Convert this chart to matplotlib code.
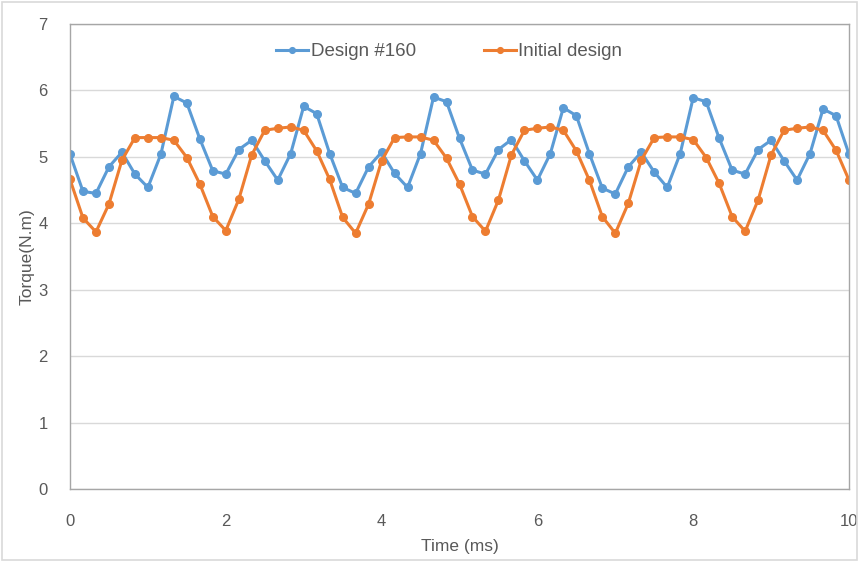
import numpy as np
import matplotlib
matplotlib.use("Agg")
import matplotlib.pyplot as plt
from matplotlib.patches import Rectangle

time_ms = [i / 6 for i in range(61)]

design160 = [5.04, 4.48, 4.45, 4.85, 5.07, 4.74, 4.54, 5.04, 5.91, 5.81,
             5.27, 4.79, 4.74, 5.11, 5.25, 4.94, 4.65, 5.05, 5.76, 5.65,
             5.05, 4.54, 4.45, 4.85, 5.07, 4.75, 4.54, 5.05, 5.90, 5.83,
             5.28, 4.80, 4.74, 5.11, 5.26, 4.94, 4.65, 5.05, 5.74, 5.62,
             5.05, 4.53, 4.44, 4.85, 5.07, 4.77, 4.54, 5.05, 5.89, 5.83,
             5.28, 4.80, 4.74, 5.11, 5.25, 4.94, 4.65, 5.05, 5.72, 5.62,
             5.04]

initial = [4.66, 4.08, 3.87, 4.29, 4.95, 5.29, 5.29, 5.29, 5.25, 4.99,
           4.59, 4.10, 3.89, 4.36, 5.03, 5.40, 5.43, 5.45, 5.40, 5.09,
           4.66, 4.09, 3.85, 4.29, 4.94, 5.29, 5.30, 5.30, 5.25, 4.98,
           4.59, 4.10, 3.88, 4.35, 5.03, 5.40, 5.43, 5.45, 5.40, 5.09,
           4.65, 4.10, 3.85, 4.30, 4.95, 5.29, 5.30, 5.30, 5.26, 4.99,
           4.60, 4.10, 3.88, 4.35, 5.03, 5.40, 5.43, 5.45, 5.40, 5.10,
           4.65]

labels = ["Design #160", "Initial design"]
xticks = [0, 2, 4, 6, 8, 10]
yticks = [0, 1, 2, 3, 4, 5, 6, 7]

plt.rcParams['font.family'] = ['Liberation Sans', 'DejaVu Sans']

fig = plt.figure(figsize=(8.59, 5.61), dpi=100)
fig.patches.append(Rectangle((0.002, 0.002), 0.996, 0.994, transform=fig.transFigure,
                             fill=False, edgecolor='#d9d9d9', linewidth=1.2))
W, H = 859, 561
ax = fig.add_axes([70 / W, 1 - 489 / H, (849 - 70) / W, (489 - 24) / H])

blue = '#5B9BD5'
orange = '#ED7D31'
ax.plot(time_ms, design160, color=blue, marker='o', markersize=5.5, linewidth=2.2, label=labels[0])
ax.plot(time_ms, initial, color=orange, marker='o', markersize=5.5, linewidth=2.2, label=labels[1])

ax.set_xlim(0, 10)
ax.set_ylim(0, 7)
ax.set_xticks(xticks)
ax.set_yticks(yticks)
ax.grid(axis='y', color='#d9d9d9', linewidth=1)
ax.set_axisbelow(True)
for s in ax.spines.values():
    s.set_color('#a6a6a6')
    s.set_linewidth(1)
ax.tick_params(length=0, colors='#595959', labelsize=12)
ax.tick_params(axis='x', pad=18)
ax.tick_params(axis='y', pad=16)
ax.set_xlabel('Time (ms)', fontsize=12.5, color='#595959', labelpad=7)
ax.set_ylabel('Torque(N.m)', fontsize=12.5, color='#595959', labelpad=3)

ax.legend(loc='upper center', bbox_to_anchor=(0.487, 0.995), ncol=2, frameon=False,
          fontsize=13.5, labelcolor='#595959', handlelength=1.7, columnspacing=3.6,
          handletextpad=0.15, markerscale=0.75)

fig.savefig('out.png', dpi=100)
